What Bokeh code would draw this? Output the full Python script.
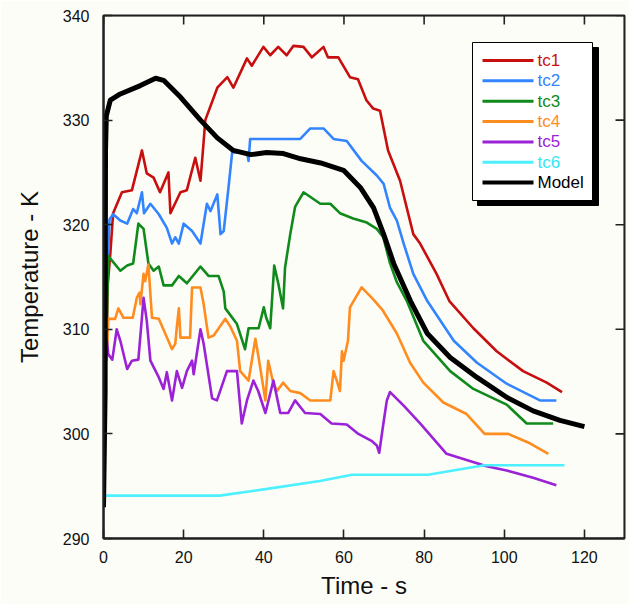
from bokeh.plotting import figure
from bokeh.models import Range1d, FixedTicker, ColumnDataSource, BoxAnnotation
from bokeh.core.properties import value
from bokeh.embed import file_html
from bokeh.resources import INLINE

# ---------------- data ----------------
x_ticks = [0, 20, 40, 60, 80, 100, 120]
y_ticks = [290, 300, 310, 320, 330, 340]

t1 = [0.8, 1.0, 1.7, 2.4, 4.6, 7.1, 9.6, 10.8, 12.5, 14.1, 16.2, 16.7, 19.2, 20.8, 22.9,
      24.2, 25.0, 25.4, 28.4, 30.9, 32.4, 35.8, 37.0, 39.9, 41.6, 43.6, 45.7, 47.4, 49.9,
      52.0, 54.9, 56.0, 58.6, 61.5, 63.5, 65.6, 67.3, 69.0, 71.0, 74.0, 77.3, 79.0, 83.1,
      86.3, 92.3, 98.1, 104.7, 110.6, 114.4]
T1 = [308, 314, 317.2, 321.1, 323.1, 323.3, 327.1, 324.9, 324.5, 323.1, 325.0, 321.1, 323.1,
      323.3, 326.4, 324.2, 328.0, 330.0, 333.1, 334.1, 333.1, 335.9, 335.2, 337.0, 336.2,
      337.0, 336.2, 337.1, 337.0, 336.0, 337.0, 336.0, 336.0, 334.1, 333.9, 331.9, 331.1,
      330.9, 327.1, 324.2, 319.1, 318.2, 315.3, 312.7, 310.1, 307.9, 306.0, 304.9, 304.0]

t2 = [0.8, 1.5, 2.4, 4.2, 5.9, 7.4, 8.3, 9.6, 10.1, 11.7, 13.8, 15.8, 17.1, 17.9, 18.8, 20.0,
      22.1, 24.2, 25.8, 26.7, 28.4, 29.2, 30.0, 31.2, 32.1, 35.8, 36.2, 36.6, 49.1, 51.6,
      54.9, 57.4, 60.7, 64.4, 68.2, 69.9, 71.5, 73.2, 74.9, 77.3, 80.8, 87.4, 93.2, 100.6,
      108.9, 113.0]
T2 = [314, 320.5, 321.0, 320.4, 320.1, 321.5, 321.1, 323.1, 321.1, 322.0, 321.0, 319.7, 318.2,
      318.8, 318.2, 320.1, 319.4, 318.2, 322.0, 321.3, 322.9, 319.1, 319.4, 323.6, 326.9,
      326.9, 326.1, 328.2, 328.2, 329.2, 329.2, 328.2, 328.0, 326.1, 324.7, 323.9, 321.6,
      320.4, 318.2, 315.3, 312.7, 308.9, 306.8, 304.8, 303.2, 303.2]

t3 = [0.8, 1.2, 4.2, 5.9, 7.4, 8.7, 10.0, 11.2, 12.5, 13.8, 15.0, 17.1, 18.8, 20.8, 24.2, 26.2,
      28.7, 30.0, 30.4, 33.3, 35.3, 36.2, 38.7, 40.0, 40.6, 41.6, 42.6, 43.6, 44.8, 45.3, 46.6,
      47.8, 49.9, 54.1, 56.6, 59.0, 62.3, 65.7, 68.2, 69.8, 71.5, 73.2, 75.7, 79.8, 86.5,
      92.3, 97.3, 100.6, 105.6, 112.2]
T3 = [310, 317, 315.6, 316.1, 316.3, 320.1, 319.6, 316.3, 315.6, 316.0, 314.2, 314.2, 315.1,
      314.4, 316.0, 315.1, 315.1, 313.6, 312.0, 310.5, 308.1, 310.1, 310.1, 312.1, 311.1,
      310.1, 316.1, 314.4, 312.0, 315.9, 319.1, 321.7, 323.1, 322.0, 322.0, 321.1, 320.6,
      320.2, 319.6, 318.8, 316.3, 314.5, 312.7, 308.9, 306.0, 304.3, 303.4, 302.8, 301.0, 301.0]

t4 = [0.8, 1.2, 2.9, 3.7, 5.0, 7.3, 8.3, 9.0, 9.2, 10.0, 10.4, 11.2, 12.1, 13.8, 17.1, 17.9,
      18.3, 18.8, 19.2, 21.6, 22.1, 24.2, 25.0, 26.2, 27.5, 30.4, 31.6, 33.3, 34.1, 36.2, 37.9,
      38.7, 40.4, 41.1, 42.4, 43.3, 44.8, 46.6, 49.1, 51.6, 56.6, 57.4, 58.2, 59.0, 59.5, 59.9,
      61.0, 61.5, 64.4, 67.2, 69.7, 73.2, 76.5, 79.8, 84.8, 90.6, 95.1, 101.0, 106.4, 111.0]
T4 = [307, 311, 311, 312, 311.1, 311.1, 313, 313.5, 312.4, 315.3, 314.6, 316.2, 311.1, 311,
      308.1, 308.6, 310.2, 312, 309.2, 309.2, 314, 314, 312.4, 309.2, 309.4, 311, 310.3, 308.9,
      306, 305.1, 309.1, 307.3, 303.2, 307, 304.8, 304.1, 304.9, 304.1, 303.9, 303.2, 303.2,
      306, 305.1, 304.1, 307.9, 307, 308.9, 312.1, 314, 312.9, 311.8, 309.6, 306.8, 304.9,
      303, 301.9, 300, 300, 299.1, 298.1]

t5 = [0.8, 1.2, 2.2, 3.3, 4.2, 5.9, 7.1, 8.7, 10.0, 10.8, 11.7, 13.8, 15.0, 15.8, 17.1, 18.3,
      19.6, 20.8, 22.1, 22.5, 24.2, 25.0, 27.1, 28.3, 30.8, 33.3, 34.5, 35.8, 37.4, 38.6, 40.4,
      42.4, 44.1, 46.1, 47.8, 50.3, 54.1, 56.9, 60.7, 63.6, 67.0, 68.2, 68.8, 69.8, 70.7, 71.5,
      74.9, 79.0, 85.6, 90.6, 95.6, 100.6, 107.2, 113.0]
T5 = [309, 307.6, 307.1, 310, 308.9, 306.2, 307, 307.1, 313, 310.8, 307, 305.4, 304.3, 305.9,
      303.2, 306, 304.4, 306, 307, 305.7, 310, 308.6, 303.4, 303.2, 306, 306, 301, 303.2,
      305.1, 304.1, 302, 305.1, 302, 302, 303.2, 302, 301.9, 301, 300.9, 300, 299.3, 298.9,
      298.2, 300.9, 303.2, 304, 302.7, 301, 298.1, 297.5, 296.9, 296.5, 295.8, 295.1]

t6 = [0, 29, 40, 54, 62, 81, 95, 115]
T6 = [294.1, 294.1, 294.7, 295.5, 296.1, 296.1, 297, 297]

tm = [0, 0.2, 0.4, 0.5, 0.7, 1.7, 4.2, 9.2, 13, 15, 19.2, 24.2, 28.4, 32.4, 36.7, 40.7, 44.9,
      49.2, 54.2, 59.9, 64.2, 67.4, 69.9, 72.4, 76.6, 80.8, 86.5, 93.2, 100.6, 107.2, 113.9, 120]
Tm = [293, 298.5, 304, 327, 330.4, 331.9, 332.5, 333.3, 334, 333.8, 332.2, 330, 328.3, 327.1,
      326.7, 326.9, 326.8, 326.3, 325.9, 325.2, 323.5, 321.6, 319.1, 316.3, 312.7, 309.6,
      307.3, 305.4, 303.5, 302.2, 301.3, 300.7]

names = ["tc1", "tc2", "tc3", "tc4", "tc5", "tc6", "Model"]
colors = ["#c80f0f", "#3384ff", "#118a1c", "#ff8c1f", "#9b22d6", "#4cf0ff", "#000000"]
text_colors = ["#c80f0f", "#3384ff", "#118a1c", "#ff8c1f", "#9b22d6", "#33e6f5", "#000000"]
series = [(t1, T1), (t2, T2), (t3, T3), (t4, T4), (t5, T5), (t6, T6), (tm, Tm)]

# ---------------- figure ----------------
BG = "#fdfdf8"
FONT = "Liberation Sans"
L, T, R, B = 103, 15, 624, 538  # frame edges in canvas px
X0, X1, Y0, Y1 = 0, 130, 290, 340
TICK = 9  # px
FRAME = "#222222"

def dx(X):  # canvas px -> data x
    return X0 + (X - L) * (X1 - X0) / (R - L)

def dy(Y):  # canvas px -> data y
    return Y1 - (Y - T) * (Y1 - Y0) / (B - T)

p = figure(width=629, height=604, x_range=Range1d(X0, X1), y_range=Range1d(Y0, Y1),
           output_backend="svg", toolbar_location=None,
           min_border_left=L, min_border_right=629 - R, min_border_top=T, min_border_bottom=604 - B,
           background_fill_color=BG, border_fill_color=BG,
           outline_line_color=FRAME, outline_line_width=2)
p.grid.visible = False

for i, (xs, ys) in enumerate(series):
    p.line(xs, ys, line_color=colors[i], line_width=5 if names[i] == "Model" else 2.6,
           line_join="round")

# mirrored inward ticks on top and right edges (from the tick lists)
dy_tick = TICK * (Y1 - Y0) / (B - T)
dx_tick = TICK * (X1 - X0) / (R - L)
p.segment(x0=x_ticks, y0=[Y1] * len(x_ticks), x1=x_ticks, y1=[Y1 - dy_tick] * len(x_ticks),
          line_color=FRAME, line_width=1.6)
p.segment(x0=[X1] * len(y_ticks), y0=y_ticks, x1=[X1 - dx_tick] * len(y_ticks), y1=y_ticks,
          line_color=FRAME, line_width=1.6)

for ax in (p.xaxis[0], p.yaxis[0]):
    ax.axis_line_color = FRAME
    ax.axis_line_width = 2
    ax.major_tick_in = TICK
    ax.major_tick_out = 0
    ax.major_tick_line_color = FRAME
    ax.major_tick_line_width = 1.6
    ax.minor_tick_line_color = None
    ax.major_label_text_font = FONT
    ax.major_label_text_font_size = "16px"
    ax.major_label_text_color = "#111111"
    ax.axis_label_text_font = FONT
    ax.axis_label_text_font_size = "24px"
    ax.axis_label_text_font_style = "normal"
    ax.axis_label_text_color = "#111111"

xa = p.xaxis[0]
ya = p.yaxis[0]
xa.ticker = FixedTicker(ticks=x_ticks)
ya.ticker = FixedTicker(ticks=y_ticks)
xa.axis_label = "Time - s"
ya.axis_label = "Temperature - K"
xa.major_label_standoff = 12
xa.axis_label_standoff = 6
ya.major_label_standoff = 14
ya.axis_label_standoff = 17

# ---------------- legend (box with drop shadow, drawn as glyphs) ----------------
p.quad(left=[dx(477)], right=[dx(598)], top=[dy(47)], bottom=[dy(205)],
       fill_color="black", line_color="black")
p.quad(left=[dx(472)], right=[dx(592)], top=[dy(42)], bottom=[dy(200)],
       fill_color="white", line_color="black", line_width=1)
row_y = [dy(60 + 20.35 * i) for i in range(len(names))]
leg = ColumnDataSource(dict(
    x0=[dx(482)] * len(names), x1=[dx(533)] * len(names), y=row_y,
    xt=[dx(537)] * len(names), name=names, color=colors, tcolor=text_colors,
    w=[4 if n == "Model" else 3 for n in names]))
p.segment(x0="x0", y0="y", x1="x1", y1="y", line_color="color", line_width="w", source=leg)
p.text(x="xt", y="y", text="name", text_color="tcolor", source=leg,
       text_font=value(FONT), text_font_size=value("17px"), text_baseline="middle")

# frame border drawn again on top of everything
p.add_layout(BoxAnnotation(fill_alpha=0, line_color=FRAME, line_width=2))

open("out.html", "w").write(file_html(p, INLINE))
